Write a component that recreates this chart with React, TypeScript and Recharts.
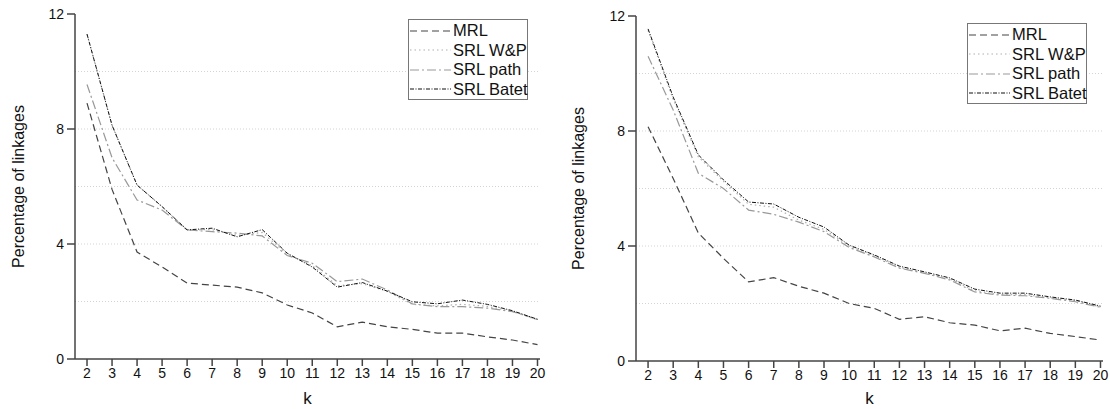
import { LineChart, Line, XAxis, YAxis, ReferenceLine } from 'recharts';

const kValues = [2, 3, 4, 5, 6, 7, 8, 9, 10, 11, 12, 13, 14, 15, 16, 17, 18, 19, 20];
const yTicks = [0, 4, 8, 12];
const gridValues = [2, 4, 6, 8, 10];

// left panel
const mrlLeft = [8.9, 5.9, 3.72, 3.2, 2.64, 2.57, 2.5, 2.3, 1.88, 1.6, 1.12, 1.28, 1.12, 1.03, 0.9, 0.9, 0.77, 0.66, 0.5];
const wpLeft = [11.3, 8.13, 6.05, 5.3, 4.49, 4.5, 4.3, 4.4, 3.65, 3.25, 2.55, 2.62, 2.35, 1.9, 1.85, 1.9, 1.83, 1.66, 1.36];
const pathLeft = [9.55, 7.0, 5.53, 5.18, 4.49, 4.43, 4.38, 4.28, 3.6, 3.33, 2.69, 2.78, 2.4, 1.92, 1.82, 1.82, 1.77, 1.65, 1.38];
const batetLeft = [11.3, 8.13, 6.05, 5.3, 4.49, 4.55, 4.25, 4.5, 3.68, 3.2, 2.5, 2.66, 2.36, 1.99, 1.92, 2.05, 1.9, 1.68, 1.38];

// right panel
const mrlRight = [8.15, 6.35, 4.45, 3.57, 2.75, 2.9, 2.6, 2.36, 2.0, 1.83, 1.45, 1.54, 1.33, 1.25, 1.05, 1.14, 0.96, 0.85, 0.73];
const wpRight = [11.5, 9.1, 7.1, 6.25, 5.45, 5.35, 4.9, 4.58, 4.0, 3.66, 3.26, 3.06, 2.86, 2.44, 2.31, 2.31, 2.2, 2.1, 1.88];
const pathRight = [10.6, 8.73, 6.53, 6.0, 5.25, 5.1, 4.83, 4.5, 3.95, 3.62, 3.23, 3.05, 2.82, 2.4, 2.29, 2.27, 2.18, 2.06, 1.87];
const batetRight = [11.55, 9.18, 7.17, 6.3, 5.53, 5.46, 5.0, 4.66, 4.03, 3.69, 3.3, 3.1, 2.89, 2.5, 2.36, 2.36, 2.23, 2.12, 1.91];

const FONT = '"Liberation Sans", Arial, sans-serif';

const series = [
  { key: 'mrl', name: 'MRL', color: '#444', dash: '7 4', width: 1.2 },
  { key: 'wp', name: 'SRL W&P', color: '#b0b0b0', dash: '1.5 3', width: 1.2 },
  { key: 'path', name: 'SRL path', color: '#999', dash: '9 3 2 3', width: 1.2 },
  { key: 'batet', name: 'SRL Batet', color: '#111', dash: '4 1.5 1 1.5', width: 1 },
];

function buildRows(mrl: number[], wp: number[], path: number[], batet: number[]) {
  return kValues.map((k, i) => ({ k, mrl: mrl[i], wp: wp[i], path: path[i], batet: batet[i] }));
}

function LegendBox({ left, top }: { left: number; top: number }) {
  return (
    <div
      style={{
        position: 'absolute',
        left,
        top,
        width: 120,
        boxSizing: 'border-box',
        border: '1px solid #777',
        background: '#fff',
        padding: '1px 0 0 1px',
        fontFamily: FONT,
        fontSize: 16.5,
        color: '#111',
        lineHeight: '19.5px',
        whiteSpace: 'nowrap',
      }}
    >
      {series.map((s) => (
        <div key={s.key} style={{ display: 'flex', alignItems: 'center' }}>
          <svg width={41} height={10} style={{ marginRight: 2, flex: 'none' }}>
            <line x1={0} y1={5} x2={41} y2={5} stroke={s.color} strokeWidth={1.2} strokeDasharray={s.dash} />
          </svg>
          <span>{s.name}</span>
        </div>
      ))}
    </div>
  );
}

interface PanelProps {
  rows: ReturnType<typeof buildRows>;
  yAxisWidth: number;
  top: number;
  right: number;
  xAxisHeight: number;
  legendLeft: number;
  legendTop: number;
  labelX: number;
}

function Panel({ rows, yAxisWidth, top, right, xAxisHeight, legendLeft, legendTop, labelX }: PanelProps) {
  const plotTop = top;
  const plotBottom = 409 - xAxisHeight;
  const midY = (plotTop + plotBottom) / 2;
  return (
    <div style={{ position: 'relative', width: 555, height: 409 }}>
      <LineChart width={555} height={409} data={rows} margin={{ top, right, left: 0, bottom: 0 }}>
        {gridValues.map((v) => (
          <ReferenceLine key={v} y={v} stroke="#d4d4d4" strokeDasharray="1 2" strokeWidth={1} />
        ))}
        <XAxis
          dataKey="k"
          type="number"
          domain={[1.52, 20.1]}
          ticks={kValues}
          interval={0}
          height={xAxisHeight}
          stroke="#444"
          strokeWidth={1.5}
          tickSize={7}
          tick={{ fontSize: 14, fill: '#111', fontFamily: FONT }}
          label={{ value: 'k', position: 'insideBottom', offset: 5, fontSize: 17, fill: '#111', fontFamily: FONT }}
        />
        <YAxis
          type="number"
          domain={[0, 12]}
          ticks={yTicks}
          width={yAxisWidth}
          stroke="#444"
          strokeWidth={1.5}
          tickSize={8}
          tickMargin={3}
          tick={{ fontSize: 14, fill: '#111', fontFamily: FONT }}
          label={() => (
            <text
              x={labelX}
              y={midY}
              transform={`rotate(-90 ${labelX} ${midY})`}
              textAnchor="middle"
              dominantBaseline="central"
              fontSize={16}
              fill="#111"
              fontFamily={FONT}
            >
              Percentage of linkages
            </text>
          )}
        />
        {series.map((s) => (
          <Line
            key={s.key}
            dataKey={s.key}
            name={s.name}
            stroke={s.color}
            strokeWidth={s.width}
            strokeDasharray={s.dash}
            dot={false}
            isAnimationActive={false}
          />
        ))}
      </LineChart>
      <LegendBox left={legendLeft} top={legendTop} />
    </div>
  );
}

export default function App() {
  const leftRows = buildRows(mrlLeft, wpLeft, pathLeft, batetLeft);
  const rightRows = buildRows(mrlRight, wpRight, pathRight, batetRight);
  return (
    <div style={{ position: 'absolute', left: 0, top: 0, width: 1110, height: 409, background: '#fff', display: 'flex' }}>
      <Panel
        rows={leftRows}
        yAxisWidth={75}
        top={14}
        right={15}
        xAxisHeight={50}
        legendLeft={408}
        legendTop={19}
        labelX={18}
      />
      <Panel
        rows={rightRows}
        yAxisWidth={81}
        top={16}
        right={7}
        xAxisHeight={48}
        legendLeft={412}
        legendTop={23}
        labelX={23}
      />
    </div>
  );
}
